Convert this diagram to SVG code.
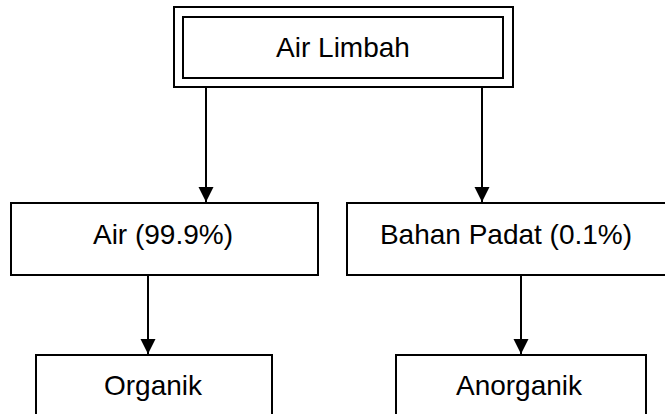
<svg xmlns="http://www.w3.org/2000/svg" width="665" height="414" viewBox="0 0 665 414">
<style>
.box{fill:#fff;stroke:#000;stroke-width:2}
.lbl{font-family:"Liberation Sans",Arial,sans-serif;font-size:28px;fill:#000;text-anchor:middle}
.conn{stroke:#000;stroke-width:2;fill:none}
</style>
<defs>
<marker id="arr" markerUnits="userSpaceOnUse" markerWidth="16" markerHeight="16" viewBox="0 0 16 16" refX="15" refY="8" orient="auto">
<path d="M0,0.5 L15,8 L0,15.5 Z" fill="#000"/>
</marker>
</defs>
<rect width="665" height="414" fill="#fff"/>
<g id="connectors">
<line class="conn" x1="206" y1="87" x2="206" y2="202" marker-end="url(#arr)"/>
<line class="conn" x1="482" y1="87" x2="482" y2="202" marker-end="url(#arr)"/>
<line class="conn" x1="148" y1="275" x2="148" y2="354" marker-end="url(#arr)"/>
<line class="conn" x1="521" y1="275" x2="521" y2="354" marker-end="url(#arr)"/>
</g>
<g id="air-limbah">
<rect class="box" x="174" y="7" width="339" height="80"/>
<rect class="box" x="183" y="17" width="320" height="61"/>
<text class="lbl" x="343" y="57">Air Limbah</text>
</g>
<g id="air">
<rect class="box" x="11" y="203" width="307" height="72"/>
<text class="lbl" x="163" y="244">Air (99.9%)</text>
</g>
<g id="bahan-padat">
<rect class="box" x="347" y="203" width="330" height="72"/>
<text class="lbl" x="506" y="244">Bahan Padat (0.1%)</text>
</g>
<g id="organik">
<rect class="box" x="36" y="355" width="236" height="70"/>
<text class="lbl" x="153" y="395">Organik</text>
</g>
<g id="anorganik">
<rect class="box" x="396" y="355" width="250" height="70"/>
<text class="lbl" x="519" y="395">Anorganik</text>
</g>
</svg>
